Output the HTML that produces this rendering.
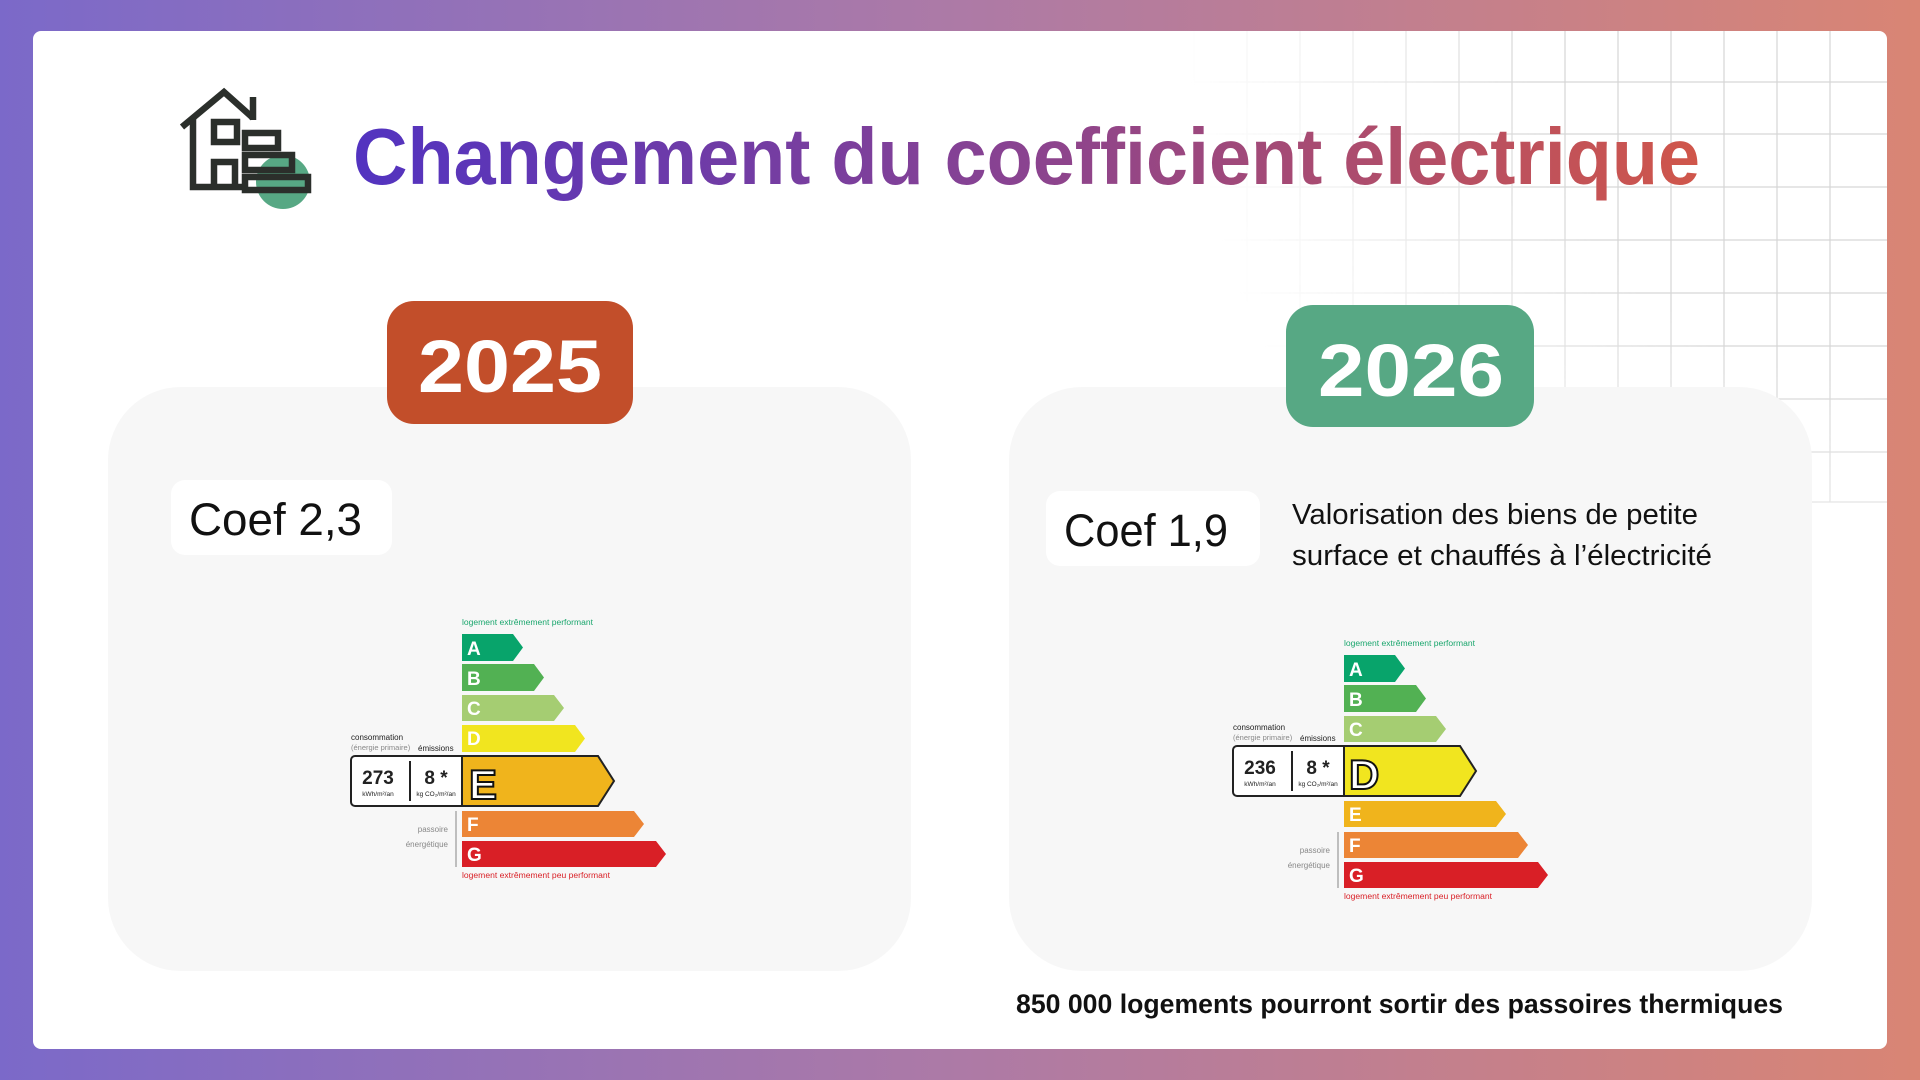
<!DOCTYPE html>
<html><head><meta charset="utf-8"><style>
html,body{margin:0;padding:0;width:1920px;height:1080px;overflow:hidden}
svg{display:block}
text{font-family:"Liberation Sans","DejaVu Sans",sans-serif}
</style></head><body>
<svg width="1920" height="1080" viewBox="0 0 1920 1080" xmlns="http://www.w3.org/2000/svg">
<defs>
<linearGradient id="bg" x1="0" y1="0" x2="1" y2="0"><stop offset="0" stop-color="#7b69c9"/><stop offset="0.5" stop-color="#ad7aa6"/><stop offset="1" stop-color="#d98574"/></linearGradient>
<linearGradient id="tg" x1="353" y1="0" x2="1700" y2="0" gradientUnits="userSpaceOnUse"><stop offset="0" stop-color="#5233c0"/><stop offset="0.5" stop-color="#8a4390"/><stop offset="1" stop-color="#d0564a"/></linearGradient>
<radialGradient id="gm" cx="1887" cy="31" r="700" gradientUnits="userSpaceOnUse"><stop offset="0.5" stop-color="#fff" stop-opacity="1"/><stop offset="1" stop-color="#fff" stop-opacity="0"/></radialGradient>
<mask id="gmask"><rect x="1180" y="31" width="710" height="480" fill="url(#gm)"/></mask>
</defs>
<rect width="1920" height="1080" fill="url(#bg)"/>
<rect x="33" y="31" width="1854" height="1018" rx="8" fill="#fff"/>
<g mask="url(#gmask)" stroke="#d6d6d6" stroke-width="1.2">
<line x1="1194" y1="31" x2="1194" y2="502"/><line x1="1247" y1="31" x2="1247" y2="502"/><line x1="1300" y1="31" x2="1300" y2="502"/><line x1="1353" y1="31" x2="1353" y2="502"/><line x1="1406" y1="31" x2="1406" y2="502"/><line x1="1459" y1="31" x2="1459" y2="502"/><line x1="1512" y1="31" x2="1512" y2="502"/><line x1="1565" y1="31" x2="1565" y2="502"/><line x1="1618" y1="31" x2="1618" y2="502"/><line x1="1671" y1="31" x2="1671" y2="502"/><line x1="1724" y1="31" x2="1724" y2="502"/><line x1="1777" y1="31" x2="1777" y2="502"/><line x1="1830" y1="31" x2="1830" y2="502"/>
<line x1="1180" y1="82" x2="1887" y2="82"/><line x1="1180" y1="134" x2="1887" y2="134"/><line x1="1180" y1="187" x2="1887" y2="187"/><line x1="1180" y1="240" x2="1887" y2="240"/><line x1="1180" y1="293" x2="1887" y2="293"/><line x1="1180" y1="346" x2="1887" y2="346"/><line x1="1180" y1="399" x2="1887" y2="399"/><line x1="1180" y1="452" x2="1887" y2="452"/><line x1="1180" y1="502" x2="1887" y2="502"/>
</g>
<!-- icon -->
<circle cx="283" cy="182" r="27" fill="#57a884"/>
<g fill="none" stroke="#2b2f2b" stroke-width="6.5" stroke-linejoin="miter">
<polyline points="182,127 224,92 253,118"/>
<line x1="253" y1="97" x2="253" y2="120"/>
<polyline points="193,118 193,187 242,187"/>
<rect x="214" y="122" width="23" height="20"/>
<polyline points="214,187 214,162 235,162 235,187"/>
<rect x="245" y="133" width="33" height="15"/>
<rect x="245" y="155" width="47" height="15"/>
<rect x="245" y="177" width="63" height="13"/>
</g>
<text x="353" y="184" font-size="80" font-weight="bold" fill="url(#tg)" textLength="1347" lengthAdjust="spacingAndGlyphs">Changement du coefficient électrique</text>
<!-- panels -->
<rect x="108" y="387" width="803" height="584" rx="73" fill="#f7f7f7"/>
<rect x="1009" y="387" width="803" height="584" rx="73" fill="#f7f7f7"/>
<rect x="387" y="301" width="246" height="123" rx="27" fill="#c24e2a"/>
<text x="510" y="392" font-size="74" font-weight="bold" fill="#fff" text-anchor="middle" textLength="184" lengthAdjust="spacingAndGlyphs">2025</text>
<rect x="1286" y="305" width="248" height="122" rx="27" fill="#57a884"/>
<text x="1411" y="396" font-size="74" font-weight="bold" fill="#fff" text-anchor="middle" textLength="186" lengthAdjust="spacingAndGlyphs">2026</text>
<rect x="171" y="480" width="221" height="75" rx="14" fill="#fff"/>
<text x="189" y="535" font-size="45" fill="#111" textLength="173" lengthAdjust="spacingAndGlyphs">Coef 2,3</text>
<rect x="1046" y="491" width="214" height="75" rx="14" fill="#fff"/>
<text x="1064" y="546" font-size="45" fill="#111" textLength="164" lengthAdjust="spacingAndGlyphs">Coef 1,9</text>
<text x="1292" y="524" font-size="29" fill="#111" textLength="406" lengthAdjust="spacingAndGlyphs">Valorisation des biens de petite</text>
<text x="1292" y="565" font-size="29" fill="#111" textLength="420" lengthAdjust="spacingAndGlyphs">surface et chauffés à l’électricité</text>
<text x="1016" y="1013" font-size="27" font-weight="bold" fill="#111" textLength="767" lengthAdjust="spacingAndGlyphs">850 000 logements pourront sortir des passoires thermiques</text>

<!-- left DPE -->
<g transform="translate(462,634)">
<text x="0" y="-9" font-size="8" fill="#1aa66d" textLength="131" lengthAdjust="spacingAndGlyphs">logement extrêmement performant</text>
<polygon points="0,0 51,0 61,13.5 51,27 0,27" fill="#08a46b"/><text x="5" y="21" font-size="19" font-weight="bold" fill="#fff">A</text>
<polygon points="0,30 72,30 82,43.5 72,57 0,57" fill="#52b153"/><text x="5" y="51" font-size="19" font-weight="bold" fill="#fff">B</text>
<polygon points="0,61 92,61 102,74 92,87 0,87" fill="#a5cd72"/><text x="5" y="81" font-size="19" font-weight="bold" fill="#fff">C</text>
<polygon points="0,91 113,91 123,104.5 113,118 0,118" fill="#f1e51f"/><text x="5" y="111" font-size="19" font-weight="bold" fill="#fff">D</text>
<rect x="-111" y="122" width="115" height="50" rx="4" fill="#fff" stroke="#222" stroke-width="2"/>
<polygon points="0,122 136,122 152,147 136,172 0,172" fill="#f0b41c" stroke="#222" stroke-width="2"/>
<text x="7" y="165" font-size="42" font-weight="bold" fill="#fff" stroke="#111" stroke-width="2">E</text>
<line x1="-52" y1="127" x2="-52" y2="167" stroke="#222" stroke-width="2"/>
<text x="-84" y="150" font-size="19" font-weight="bold" fill="#222" text-anchor="middle">273</text>
<text x="-84" y="162" font-size="6.5" fill="#222" text-anchor="middle">kWh/m²/an</text>
<text x="-26" y="150" font-size="19" font-weight="bold" fill="#222" text-anchor="middle">8 *</text>
<text x="-26" y="162" font-size="6.5" fill="#222" text-anchor="middle">kg CO₂/m²/an</text>
<text x="-111" y="106" font-size="8" fill="#222">consommation</text>
<text x="-111" y="116" font-size="7.5" fill="#888">(énergie primaire)</text>
<text x="-44" y="117" font-size="8" fill="#222">émissions</text>
<polygon points="0,177 172,177 182,190 172,203 0,203" fill="#ec8536"/><text x="5" y="197" font-size="19" font-weight="bold" fill="#fff">F</text>
<polygon points="0,207 194,207 204,220 194,233 0,233" fill="#d91f26"/><text x="5" y="227" font-size="19" font-weight="bold" fill="#fff">G</text>
<line x1="-6" y1="177" x2="-6" y2="233" stroke="#aaa" stroke-width="1.5"/>
<text x="-14" y="198" font-size="8" fill="#888" text-anchor="end">passoire</text>
<text x="-14" y="213" font-size="8" fill="#888" text-anchor="end">énergétique</text>
<text x="0" y="244" font-size="8" fill="#d91f26" textLength="148" lengthAdjust="spacingAndGlyphs">logement extrêmement peu performant</text>
</g>

<!-- right DPE -->
<g transform="translate(1344,655)">
<text x="0" y="-9" font-size="8" fill="#1aa66d" textLength="131" lengthAdjust="spacingAndGlyphs">logement extrêmement performant</text>
<polygon points="0,0 51,0 61,13.5 51,27 0,27" fill="#08a46b"/><text x="5" y="21" font-size="19" font-weight="bold" fill="#fff">A</text>
<polygon points="0,30 72,30 82,43.5 72,57 0,57" fill="#52b153"/><text x="5" y="51" font-size="19" font-weight="bold" fill="#fff">B</text>
<polygon points="0,61 92,61 102,74 92,87 0,87" fill="#a5cd72"/><text x="5" y="81" font-size="19" font-weight="bold" fill="#fff">C</text>
<rect x="-111" y="91" width="115" height="50" rx="4" fill="#fff" stroke="#222" stroke-width="2"/>
<polygon points="0,91 116,91 132,116 116,141 0,141" fill="#f1e51f" stroke="#222" stroke-width="2"/>
<text x="5" y="134" font-size="42" font-weight="bold" fill="#fff" stroke="#111" stroke-width="2">D</text>
<line x1="-52" y1="96" x2="-52" y2="136" stroke="#222" stroke-width="2"/>
<text x="-84" y="119" font-size="19" font-weight="bold" fill="#222" text-anchor="middle">236</text>
<text x="-84" y="131" font-size="6.5" fill="#222" text-anchor="middle">kWh/m²/an</text>
<text x="-26" y="119" font-size="19" font-weight="bold" fill="#222" text-anchor="middle">8 *</text>
<text x="-26" y="131" font-size="6.5" fill="#222" text-anchor="middle">kg CO₂/m²/an</text>
<text x="-111" y="75" font-size="8" fill="#222">consommation</text>
<text x="-111" y="85" font-size="7.5" fill="#888">(énergie primaire)</text>
<text x="-44" y="86" font-size="8" fill="#222">émissions</text>
<polygon points="0,146 152,146 162,159 152,172 0,172" fill="#f0b41c"/><text x="5" y="166" font-size="19" font-weight="bold" fill="#fff">E</text>
<polygon points="0,177 174,177 184,190 174,203 0,203" fill="#ec8536"/><text x="5" y="197" font-size="19" font-weight="bold" fill="#fff">F</text>
<polygon points="0,207 194,207 204,220 194,233 0,233" fill="#d91f26"/><text x="5" y="227" font-size="19" font-weight="bold" fill="#fff">G</text>
<line x1="-6" y1="177" x2="-6" y2="233" stroke="#aaa" stroke-width="1.5"/>
<text x="-14" y="198" font-size="8" fill="#888" text-anchor="end">passoire</text>
<text x="-14" y="213" font-size="8" fill="#888" text-anchor="end">énergétique</text>
<text x="0" y="244" font-size="8" fill="#d91f26" textLength="148" lengthAdjust="spacingAndGlyphs">logement extrêmement peu performant</text>
</g>
</svg>
</body></html>
